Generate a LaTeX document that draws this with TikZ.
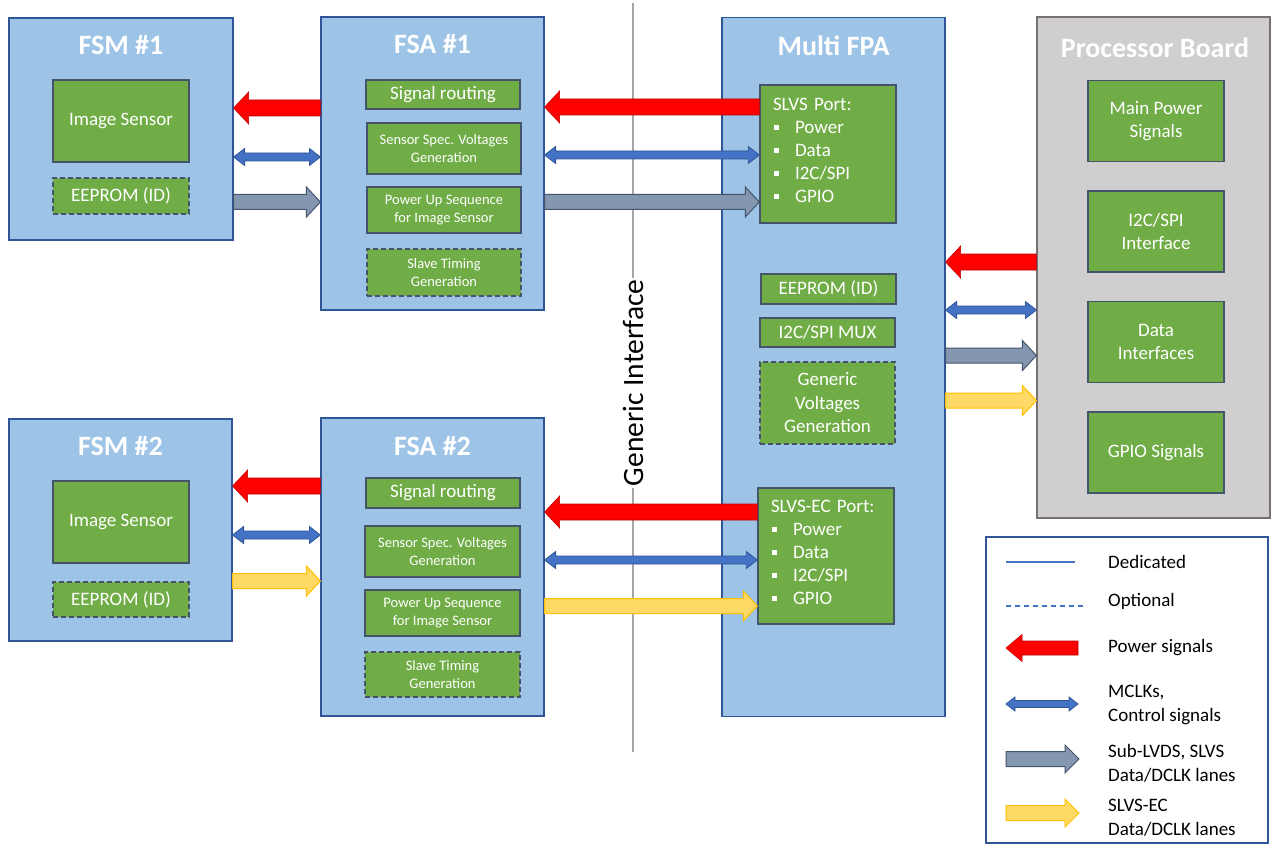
\documentclass[tikz,border=0pt]{standalone}
\usepackage{fontspec}
\setmainfont{Carlito}
\usetikzlibrary{positioning,calc}

\definecolor{boxblue}{HTML}{9DC3E6}
\definecolor{edgeblue}{HTML}{2F5597}
\definecolor{blockgreen}{HTML}{70AD47}
\definecolor{edgeslate}{HTML}{44546A}
\definecolor{boardgray}{HTML}{D0CECE}
\definecolor{edgegray}{HTML}{767171}
\definecolor{pwrred}{HTML}{FF0000}
\definecolor{pwredge}{HTML}{C00000}
\definecolor{ctlblue}{HTML}{4472C4}
\definecolor{lanegray}{HTML}{8497B0}
\definecolor{ecyellow}{HTML}{FFD966}
\definecolor{ecedge}{HTML}{FFC000}
\definecolor{ifline}{HTML}{A6A6A6}

% block arrows: style, from, to, shaft half, head half, head length
\newcommand{\fatone}[6]{\path[#1] let \p1=(#2), \p2=(#3), \n1={ifthenelse(\x2>\x1,1,-1)} in
  (\x1,{\y1+#4}) -- ({\x2-(\n1*#6)},{\y1+#4}) -- ({\x2-(\n1*#6)},{\y1+#5}) -- (\x2,\y1)
  -- ({\x2-(\n1*#6)},{\y1-#5}) -- ({\x2-(\n1*#6)},{\y1-#4}) -- (\x1,{\y1-#4}) -- cycle;}
\newcommand{\fattwo}[6]{\path[#1] let \p1=(#2), \p2=(#3), \n1={ifthenelse(\x2>\x1,1,-1)} in
  (\x1,\y1) -- ({\x1+(\n1*#6)},{\y1+#5}) -- ({\x1+(\n1*#6)},{\y1+#4}) -- ({\x2-(\n1*#6)},{\y1+#4})
  -- ({\x2-(\n1*#6)},{\y1+#5}) -- (\x2,\y1) -- ({\x2-(\n1*#6)},{\y1-#5}) -- ({\x2-(\n1*#6)},{\y1-#4})
  -- ({\x1+(\n1*#6)},{\y1-#4}) -- ({\x1+(\n1*#6)},{\y1-#5}) -- cycle;}
\newcommand{\itm}[1]{\makebox[22pt][l]{\hspace{1pt}\rule[3.5pt]{5pt}{5pt}}#1}

\begin{document}
\begin{tikzpicture}[x=1pt,y=-1pt,
  unit/.style={draw=edgeblue, fill=boxblue, line width=1.2pt, inner sep=0pt},
  board/.style={draw=edgegray, fill=boardgray, line width=1.2pt, inner sep=0pt},
  blk/.style={draw=edgeslate, fill=blockgreen, line width=1.4pt, text=white, inner sep=0pt,
    align=center, font=\fontsize{19}{23.5}\selectfont},
  optblk/.style={blk, dash pattern=on 5pt off 3pt},
  small/.style={font=\fontsize{14.5}{17.5}\selectfont},
  port/.style={blk, align=left, text width=110pt, font=\fontsize{19}{23}\selectfont},
  title/.style={text=white, anchor=base, inner sep=0pt, font=\bfseries\fontsize{28}{32}\selectfont},
  pwr/.style={fill=pwrred, draw=pwredge, line width=0.6pt},
  ctl/.style={fill=ctlblue, draw=edgeblue, line width=0.8pt},
  lane/.style={fill=lanegray, draw=edgeslate, line width=1pt},
  ec/.style={fill=ecyellow, draw=ecedge, line width=1pt},
  lgdtext/.style={anchor=west, align=left, inner sep=0pt, font=\fontsize{19}{23.5}\selectfont}]
\useasboundingbox[fill=white] (0,0) rectangle (1271,845);

% sensor modules
\node[unit, minimum width=224pt, minimum height=222pt] (fsmA) at (121,129) {};
\node[title] at (121,55) {FSM \#1};
\node[blk, minimum width=136pt, minimum height=82pt] (isA) at (121,121) {Image Sensor};
\node[optblk, minimum width=136pt, minimum height=36pt] (eeA) at (121,196) {EEPROM (ID)};

\node[unit, minimum width=223pt, minimum height=222pt] (fsmB) at (120.5,530) {};
\node[title] at (120.5,455) {FSM \#2};
\node[blk, minimum width=136pt, minimum height=82pt] (isB) at (121,522) {Image Sensor};
\node[optblk, minimum width=136pt, minimum height=35pt] (eeB) at (121,599.5) {EEPROM (ID)};

% adapters
\node[unit, minimum width=223pt, minimum height=293pt] (fsaA) at (432.5,163.5) {};
\node[title] at (432.5,54) {FSA \#1};
\node[blk, minimum width=154pt, minimum height=29pt] (srA) at (443,94.5) {Signal routing};
\node[blk, small, minimum width=154pt, minimum height=51pt] (svA) at (444,148.5) {Sensor Spec. Voltages\\Generation};
\node[blk, small, minimum width=154pt, minimum height=46pt] (puA) at (444,210) {Power Up Sequence\\for Image Sensor};
\node[optblk, small, minimum width=154pt, minimum height=47pt] (stA) at (444,272.5) {Slave Timing\\Generation};

\node[unit, minimum width=223pt, minimum height=298pt] (fsaB) at (432.5,567) {};
\node[title] at (432.5,455) {FSA \#2};
\node[blk, minimum width=154pt, minimum height=30pt] (srB) at (443,493) {Signal routing};
\node[blk, small, minimum width=155pt, minimum height=51pt] (svB) at (442.5,551.5) {Sensor Spec. Voltages\\Generation};
\node[blk, small, minimum width=155pt, minimum height=46pt] (puB) at (442.5,613) {Power Up Sequence\\for Image Sensor};
\node[optblk, small, minimum width=155pt, minimum height=45pt] (stB) at (442.5,674.5) {Slave Timing\\Generation};

% multi fpa
\node[unit, minimum width=223pt, minimum height=699pt] (mfpa) at (833.5,367) {};
\node[title] at (833.5,56) {Multi FPA};
\node[port, minimum width=136pt, minimum height=138pt] (slvs) at (828,154)
  {SLVS Port:\\\itm{Power}\\\itm{Data}\\\itm{I2C/SPI}\\\itm{GPIO}\rule[-8pt]{0pt}{8pt}};
\node[blk, minimum width=135pt, minimum height=30pt] (eeM) at (828.5,289) {EEPROM (ID)};
\node[blk, minimum width=135pt, minimum height=29pt] (mux) at (827.5,332.5) {I2C/SPI MUX};
\node[optblk, minimum width=135pt, minimum height=82pt] (gvg) at (827.5,403) {Generic\\Voltages\\Generation};
\node[port, minimum width=136pt, minimum height=136pt] (slvsec) at (826,556)
  {SLVS-EC Port:\\\itm{Power}\\\itm{Data}\\\itm{I2C/SPI}\\\itm{GPIO}\rule[-7pt]{0pt}{7pt}};

% processor board
\node[board, minimum width=233pt, minimum height=501pt] (proc) at (1153.5,267.5) {};
\node[title] at (1155,58) {Processor Board};
\node[blk, minimum width=136pt, minimum height=81pt] (mps) at (1156,121) {Main Power\\Signals};
\node[blk, minimum width=136pt, minimum height=81pt] (i2c) at (1156,231.5) {I2C/SPI\\Interface};
\node[blk, minimum width=136pt, minimum height=81pt] (dif) at (1156,342) {Data\\Interfaces};
\node[blk, minimum width=136pt, minimum height=81pt] (gpio) at (1156,452.5) {GPIO Signals};

% generic interface
\coordinate (ifTop) at (633,3);
\coordinate (ifBot) at (633,752);
\draw[ifline, line width=2pt] (ifTop) -- (ifBot);
\node[fill=white, rotate=90, inner sep=2pt, font=\fontsize{29.5}{33}\selectfont] (ifname) at (633,383) {Generic Interface};

% links sensor side
\fatone{pwr}{fsaA.west |- 0,108}{fsmA.east |- 0,108}{8pt}{16pt}{15pt}
\fattwo{ctl}{fsmA.east |- 0,157}{fsaA.west |- 0,157}{4pt}{8.5pt}{11pt}
\fatone{lane}{fsmA.east |- 0,202}{fsaA.west |- 0,202}{7.5pt}{15pt}{14pt}
\fatone{pwr}{fsaB.west |- 0,486}{fsmB.east |- 0,486}{8pt}{16pt}{15pt}
\fattwo{ctl}{fsmB.east |- 0,535}{fsaB.west |- 0,535}{4pt}{8.5pt}{11pt}
\fatone{ec}{fsmB.east |- 0,581}{fsaB.west |- 0,581}{7.5pt}{15pt}{14pt}

% links across the interface
\fatone{pwr}{slvs.west |- 0,107}{fsaA.east |- 0,107}{8pt}{16pt}{15pt}
\fattwo{ctl}{fsaA.east |- 0,155}{slvs.west |- 0,155}{4pt}{8.5pt}{11pt}
\fatone{lane}{fsaA.east |- 0,202}{slvs.west |- 0,202}{7.5pt}{15pt}{14pt}
\fatone{pwr}{slvsec.west |- 0,512}{fsaB.east |- 0,512}{8pt}{16pt}{15pt}
\fattwo{ctl}{fsaB.east |- 0,560}{slvsec.west |- 0,560}{4pt}{8.5pt}{11pt}
\fatone{ec}{fsaB.east |- 0,606}{slvsec.west |- 0,606}{7.5pt}{15pt}{14pt}

% links to processor board
\fatone{pwr}{proc.west |- 0,262}{mfpa.east |- 0,262}{8pt}{16pt}{15pt}
\fattwo{ctl}{mfpa.east |- 0,310}{proc.west |- 0,310}{4pt}{8.5pt}{11pt}
\fatone{lane}{mfpa.east |- 0,355.5}{proc.west |- 0,355.5}{7.5pt}{15pt}{14pt}
\fatone{ec}{mfpa.east |- 0,400.5}{proc.west |- 0,400.5}{7.5pt}{15pt}{14pt}

% legend
\node[draw=edgeblue, fill=white, line width=1.2pt, minimum width=282pt, minimum height=306pt, inner sep=0pt] (lgd) at (1127,690) {};
\draw[ctlblue, line width=1.2pt] (1006,562) -- (1075,562);
\draw[ctlblue, line width=1.2pt, dash pattern=on 5pt off 4pt] (1006,606) -- (1085,606);
\fatone{pwr}{1078,648}{1006,648}{7pt}{13.5pt}{16pt}
\fattwo{ctl}{1006,704}{1078,704}{3.5pt}{7pt}{9pt}
\fatone{lane}{1006,759}{1079,759}{7.5pt}{14pt}{14pt}
\fatone{ec}{1006,813}{1079,813}{7.5pt}{14pt}{14pt}
\node[lgdtext] (lgdA) at (1108,562) {Dedicated};
\node[lgdtext] (lgdB) at (1108,601) {Optional};
\node[lgdtext] (lgdC) at (1108,648) {Power signals};
\node[lgdtext] (lgdD) at (1108,705) {MCLKs,\\Control signals};
\node[lgdtext] (lgdE) at (1108,763.5) {Sub-LVDS, SLVS\\Data/DCLK lanes};
\node[lgdtext] (lgdF) at (1108,817.5) {SLVS-EC\\Data/DCLK lanes};
\end{tikzpicture}
\end{document}
